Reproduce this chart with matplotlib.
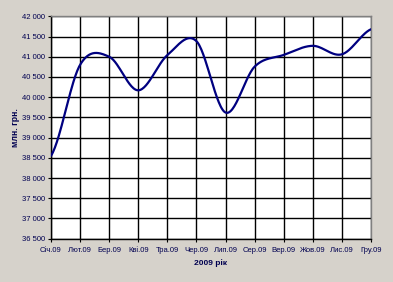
import numpy as np
import matplotlib
matplotlib.use("Agg")
import matplotlib.pyplot as plt
from matplotlib.ticker import FuncFormatter, MultipleLocator

months = ["Січ.09", "Лют.09", "Бер.09", "Кві.09", "Тра.09", "Чер.09",
          "Лип.09", "Сер.09", "Вер.09", "Жов.09", "Лис.09", "Гру.09"]
values = [38550, 40800, 41000, 40170, 41040, 41385,
          39620, 40755, 41045, 41270, 41060, 41680]
x_label = "2009 рік"
y_label = "млн. грн."

def catmull_rom(y, n=30):
    y = np.asarray(y, dtype=float)
    p = np.concatenate([[y[0]], y, [y[-1]]])
    xs, ys = [], []
    for i in range(len(y) - 1):
        p0, p1, p2, p3 = p[i], p[i + 1], p[i + 2], p[i + 3]
        m1 = (p2 - p0) / 2.0
        m2 = (p3 - p1) / 2.0
        t = np.linspace(0, 1, n, endpoint=(i == len(y) - 2))
        h00 = 2 * t**3 - 3 * t**2 + 1
        h10 = t**3 - 2 * t**2 + t
        h01 = -2 * t**3 + 3 * t**2
        h11 = t**3 - t**2
        xs.append(i + t)
        ys.append(h00 * p1 + h10 * m1 + h01 * p2 + h11 * m2)
    return np.concatenate(xs), np.concatenate(ys)

fam = ["Liberation Sans", "DejaVu Sans"]
txt = "#000050"
bg = "#d6d2cb"

fig = plt.figure(figsize=(3.93, 2.82), dpi=100, facecolor=bg)
ax = fig.add_axes([51 / 393, (282 - 238.7) / 282, 320 / 393, 222.4 / 282])
ax.set_facecolor("white")

xx, yy = catmull_rom(values)
ax.plot(xx, yy, color="#000080", lw=1.6, zorder=3, solid_capstyle="round")

ax.set_xlim(0, len(months) - 1)
ax.set_ylim(36500, 42000)
ax.yaxis.set_major_locator(MultipleLocator(500))
ax.yaxis.set_major_formatter(FuncFormatter(lambda v, p: f"{int(v):,}".replace(",", " ")))
ax.set_xticks(range(len(months)))
ax.set_xticklabels(months)
ax.grid(True, color="black", lw=1.0, zorder=1)
ax.set_axisbelow(True)

for s in ["left", "bottom"]:
    ax.spines[s].set_color("black")
    ax.spines[s].set_linewidth(1.0)
for s in ["top", "right"]:
    ax.spines[s].set_color("#808080")
    ax.spines[s].set_linewidth(1.0)

ax.tick_params(axis="y", direction="out", length=2.5, width=0.8, pad=2,
               labelsize=5.5, colors="black")
ax.tick_params(axis="x", direction="out", length=2.5, width=0.8, pad=3.5,
               labelsize=5.5, colors="black")
for lab in ax.get_xticklabels() + ax.get_yticklabels():
    lab.set_family(fam)
    lab.set_color(txt)

ax.set_xlabel(x_label, family=fam, fontsize=6, fontweight="bold", color=txt)
ax.xaxis.set_label_coords(0.5, -0.09)
ax.set_ylabel(y_label, family=fam, fontsize=6.2, fontweight="bold", color=txt)
ax.yaxis.set_label_coords(-0.097, 0.5)

fig.savefig("out.png", dpi=100, facecolor=bg)
